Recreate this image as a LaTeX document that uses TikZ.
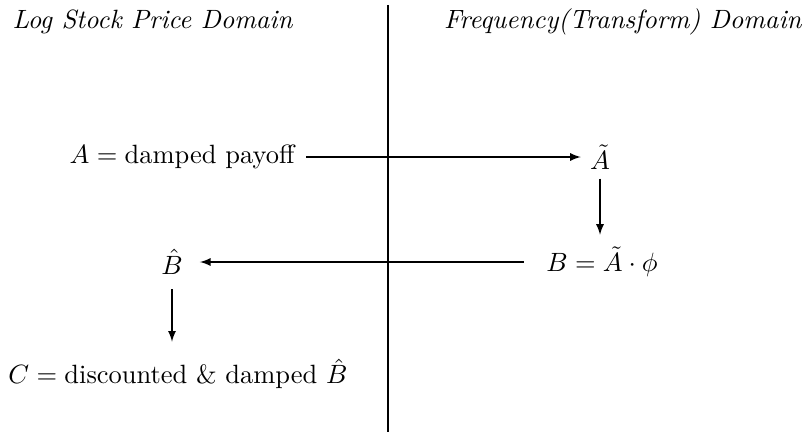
\documentclass[tikz,border=0pt]{standalone}
\usepackage{amsmath}
\usepackage{tikz}
\usetikzlibrary{arrows}

\begin{document}
\begin{tikzpicture}[x=0.01329cm,y=-0.01329cm,
    flow/.style={-latex},
    heading/.style={font=\itshape, inner sep=0pt}]
  \useasboundingbox (0,0) rectangle (806,434);

  % ----- DIVIDER -----
  \coordinate (top) at (388,5);
  \coordinate (bot) at (388,432);
  \draw[line width=0.9pt] (top) -- (bot);

  % ----- HEADINGS -----
  \node[heading, anchor=west] (logdom) at (12,22) {Log Stock Price Domain};
  \node[heading, anchor=east] (freqdom) at (802,22) {Frequency(Transform) Domain};

  % ----- STEPS -----
  \node (A) at (182,157) {$A = \text{damped payoff}$};
  \node (At) at (600,157) {$\tilde{A}$};
  \node (B) at (602,262) {$B = \tilde{A}\cdot\phi$};
  \node (Bh) at (172,262) {$\hat{B}$};
  \node (C) at (178,374) {$C = \text{discounted \& damped } \hat{B}$};

  \draw[flow, shorten <=1pt] (A) -- (At);
  \draw[flow, shorten >=1.2pt] (At.south) -- (At.south |- B.north);
  \draw[flow, shorten <=5pt, shorten >=3pt] (B) -- (Bh);
  \draw[flow, shorten <=2pt, shorten >=3pt] (Bh.south) -- (Bh.south |- C.north);
\end{tikzpicture}
\end{document}
